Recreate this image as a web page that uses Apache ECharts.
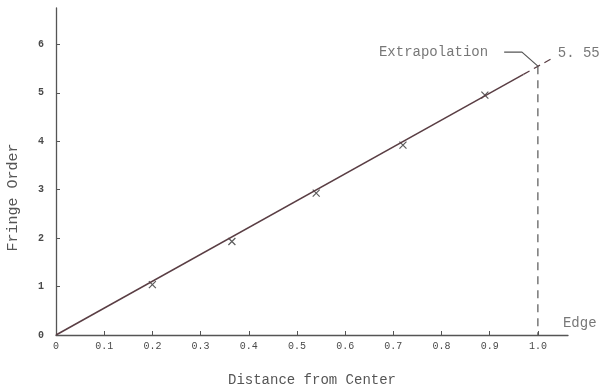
<!DOCTYPE html>
<html><head><meta charset="utf-8">
<script src="https://cdn.jsdelivr.net/npm/echarts@6/dist/echarts.min.js"></script>
<style>html,body{margin:0;padding:0;background:#fff}#c{width:602px;height:384px}</style>
</head><body><div id="c"></div>
<script>
const xTicks = [0, 0.1, 0.2, 0.3, 0.4, 0.5, 0.6, 0.7, 0.8, 0.9, 1.0];
const xTickLabels = ["0","0.1","0.2","0.3","0.4","0.5","0.6","0.7","0.8","0.9","1.0"];
const yTicks = [0, 1, 2, 3, 4, 5, 6];
const measuredX = [0.2, 0.365, 0.54, 0.72, 0.89];
const measuredY = [1.04, 1.93, 2.93, 3.92, 4.95];
const fitSolid = [[0, 0], [0.97, 5.38]];
const fitDashed = [[0.97, 5.38], [1.035, 5.74]];
const edgeLine = [[1.0, 5.55], [1.0, 0]];
const leader = [[0.93, 5.84], [0.967, 5.84], [1.0, 5.55]];
const extrapValue = 5.55;

const mono = "Liberation Mono";
const ink = "#4a4a4a";
const lineCol = "#5a3e44";

const chart = echarts.init(document.getElementById('c'));
chart.setOption({
  animation: false,
  backgroundColor: '#fff',
  grid: {left: 56, right: 34, top: 8, bottom: 49, containLabel: false, outerBoundsMode: 'none'},
  xAxis: {
    type: 'value', min: 0, max: 1.0625,
    name: 'Distance from Center', nameLocation: 'middle', nameGap: 38,
    nameTextStyle: {fontFamily: mono, fontSize: 14, color: '#555'},
    axisLine: {lineStyle: {color: '#555', width: 1.3}},
    axisTick: {show: true, inside: true, length: 4, customValues: xTicks, lineStyle: {color: '#555'}},
    axisLabel: {customValues: xTicks, fontFamily: mono, fontSize: 10, color: ink, margin: 6,
      formatter: v => { const i = xTicks.findIndex(t => Math.abs(t - v) < 1e-6); return i >= 0 ? xTickLabels[i] : ''; }},
    splitLine: {show: false}
  },
  yAxis: {
    type: 'value', min: 0, max: 6.75,
    name: 'Fringe Order', nameLocation: 'middle', nameGap: 35, nameRotate: 90,
    nameTextStyle: {fontFamily: mono, fontSize: 15, color: '#555', padding: [0, 52, 0, 0]},
    axisLine: {lineStyle: {color: '#555', width: 1.3}},
    axisTick: {show: true, inside: true, length: 4, customValues: yTicks, lineStyle: {color: '#555'}},
    axisLabel: {customValues: yTicks, fontFamily: mono, fontSize: 10, color: ink, margin: 12, fontWeight: 'bold'},
    splitLine: {show: false}
  },
  series: [
    {type: 'line', data: fitSolid, symbol: 'none', lineStyle: {color: lineCol, width: 1.5}},
    {type: 'line', data: fitDashed, symbol: 'none', lineStyle: {color: lineCol, width: 1.3, type: [7, 5]}},
    {type: 'line', data: edgeLine, symbol: 'none', lineStyle: {color: '#555', width: 1.2, type: [8, 6]}},
    {type: 'line', data: leader, symbol: 'none', lineStyle: {color: '#555', width: 1.2}, clip: false},
    {type: 'scatter', data: measuredX.map((x, i) => [x, measuredY[i]]),
      symbol: 'path://M0,0L10,10M10,0L0,10', symbolSize: 7,
      itemStyle: {color: 'transparent', borderColor: '#333', borderWidth: 1.2}},
    {type: 'scatter', symbolSize: 0, clip: false, silent: true,
      data: [
        {value: [leader[0][0], leader[0][1]], label: {show: true, position: 'left', distance: 16, formatter: 'Extrapolation'}},
        {value: [fitDashed[1][0], fitDashed[1][1]], label: {show: true, position: 'right', distance: 3, offset: [0, -4], formatter: String(extrapValue).replace('.', '. ')}},
        {value: [1.052, 0.25], label: {show: true, position: 'right', distance: 0, formatter: 'Edge'}}
      ],
      label: {fontFamily: mono, fontSize: 14, color: '#555'}}
  ]
});
</script></body></html>
